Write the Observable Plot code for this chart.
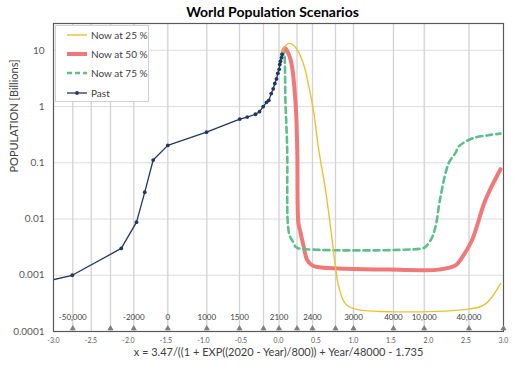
<!DOCTYPE html>
<html><head><meta charset="utf-8">
<script src="https://cdn.jsdelivr.net/npm/d3@7"></script>
<script src="https://cdn.jsdelivr.net/npm/@observablehq/plot@0.6"></script>
<style>
body{margin:0;background:#fff;font-family:Lato,"Open Sans",sans-serif;}
#wrap{position:relative;width:515px;height:367px;}
#title{height:22px;line-height:24px;text-align:center;font-weight:bold;font-size:14px;color:#000;padding-left:30px;box-sizing:border-box;width:515px;}
#legend{position:absolute;left:55px;top:25px;width:94px;height:77px;background:#fff;border:1px solid #d0d0d0;box-sizing:border-box;}
#legend svg{display:block;}
</style></head>
<body>
<div id="wrap">
<div id="title">World Population Scenarios</div>
<div id="chart"></div>
<div id="legend"></div>
</div>
<script>
// Past data
const pastX = [-3.25, -2.75, -2.097, -1.893, -1.783, -1.671, -1.476, -0.96, -0.516, -0.417, -0.307, -0.253, -0.204, -0.16, -0.129, -0.097, -0.071, -0.049, -0.027, -0.009, 0.009, 0.017, 0.027, 0.04, 0.049];
const pastY = [0.0007, 0.001, 0.003, 0.0088, 0.03, 0.112, 0.204, 0.35, 0.6, 0.65, 0.73, 0.81, 1.0, 1.19, 1.29, 1.7, 2.07, 2.57, 3.1, 3.9, 4.6, 5.6, 6.4, 7.4, 8.5];
// Now at 25 %
const s25X = [0.049, 0.08, 0.137, 0.2, 0.271, 0.35, 0.404, 0.471, 0.537, 0.627, 0.716, 0.76, 0.804, 0.893, 1.027, 2.533, 2.76, 2.96];
const s25Y = [8.5, 11.5, 13.3, 12.3, 9.1, 4.8, 2.3, 0.77, 0.17, 0.033, 0.0042, 0.0014, 0.00062, 0.00031, 0.00025, 0.00025, 0.00031, 0.00071];
// Now at 50 %
const s50X = [0.049, 0.084, 0.16, 0.227, 0.25, 0.265, 0.29, 0.316, 0.337, 0.383, 0.45, 0.516, 0.8, 1.467, 1.916, 2.133, 2.36, 2.45, 2.58, 2.76, 2.96];
const s50Y = [8.5, 11.0, 6.9, 1.18, 0.17, 0.0085, 0.006, 0.0042, 0.0032, 0.00185, 0.0015, 0.0014, 0.00132, 0.00126, 0.00123, 0.00126, 0.0015, 0.0021, 0.0042, 0.022, 0.077];
// Now at 75 %
const s75X = [0.049, 0.07, 0.093, 0.116, 0.124, 0.15, 0.182, 0.23, 0.271, 1.916, 1.96, 2.04, 2.093, 2.16, 2.271, 2.36, 2.404, 2.58, 2.8, 2.96];
const s75Y = [8.5, 9.8, 1.18, 0.17, 0.0085, 0.005, 0.0042, 0.0032, 0.003, 0.003, 0.0032, 0.0045, 0.0072, 0.025, 0.1, 0.15, 0.195, 0.27, 0.31, 0.33];

// Axis ticks
const xTicks = [-3, -2.5, -2, -1.5, -1, -0.5, 0, 0.5, 1, 1.5, 2, 2.5, 3];
const yTicks = [0.0001, 0.001, 0.01, 0.1, 1, 10];
const yTickLabels = ["0.0001", "0.001", "0.01", "0.1", "1", "10"];
// Year gridlines
const gridX = [-2.743, -2.497, -2.24, -1.93, -1.476, -0.956, -0.52, -0.2, 0.007, 0.247, 0.453, 0.76, 1.0, 1.533, 1.943, 2.54];
const markerX = [-2.743, -2.24, -1.93, -1.476, -0.956, -0.52, -0.2, 0.007, 0.247, 0.453, 0.76, 1.0, 1.533, 1.943, 2.54, 3.0];
const yearLabelX = [-2.743, -1.93, -1.476, -0.956, -0.52, 0.007, 0.453, 1.0, 1.533, 1.943, 2.54];
const yearLabels = ["-50,000", "-2000", "0", "1000", "1500", "2100", "2400", "3000", "4000", "10,000", "40,000"];
const xLabel = "x = 3.47/((1 + EXP((2020 - Year)/800)) + Year/48000 - 1.735";
const yLabel = "POPULATION [Billions]";

const zip = (xs, ys) => xs.map((x, i) => ({x, y: ys[i]}));
const past = zip(pastX, pastY), s25 = zip(s25X, s25Y), s50 = zip(s50X, s50Y), s75 = zip(s75X, s75Y);
const yTickFmt = d => yTickLabels[yTicks.findIndex(t => Math.abs(Math.log10(t) - Math.log10(d)) < 1e-6)] ?? "";

const C25 = "#ecc232", C50 = "#f07878", C75 = "#5cbf8d", CP = "#1f3864";

const chart = Plot.plot({
  width: 515, height: 345,
  marginLeft: 53, marginRight: 12, marginTop: 1, marginBottom: 36,
  style: {fontFamily: "Lato, 'Open Sans', sans-serif", background: "#fff", overflow: "visible"},
  x: {domain: [-3, 3]},
  y: {type: "log", domain: [1e-4, 30]},
  marks: [
    Plot.ruleY(yTicks, {stroke: "#dcdcdc", strokeWidth: 1}),
    Plot.ruleX(gridX, {stroke: "#d2d2d2", strokeWidth: 1.3}),
    Plot.axisY({ticks: yTicks, tickFormat: yTickFmt, tickSize: 0, tickPadding: 9, fontSize: 10, color: "#595959", label: null}),
    Plot.axisX({ticks: xTicks, tickFormat: d => d.toFixed(1), tickSize: 0, tickPadding: 7, fontSize: 7, color: "#595959", label: null}),
    Plot.text([xLabel], {text: d => d, frameAnchor: "bottom", dy: 24, fontSize: 11, fill: "#404040"}),
    Plot.text([yLabel], {text: d => d, frameAnchor: "left", rotate: -90, dx: -39, dy: -5, fontSize: 11, fill: "#404040"}),
    Plot.text(yearLabels, {x: (d, i) => yearLabelX[i], text: d => d, frameAnchor: "bottom", dy: -12, fontSize: 8, fill: "#404040"}),
    Plot.line(s50, {x: "x", y: "y", stroke: C50, strokeWidth: 4, curve: "catmull-rom", clip: true}),
    Plot.line(s75, {x: "x", y: "y", stroke: C75, strokeWidth: 2.6, strokeDasharray: "6,4", curve: "catmull-rom", clip: true}),
    Plot.line(s25, {x: "x", y: "y", stroke: C25, strokeWidth: 1.4, curve: "catmull-rom", clip: true}),
    Plot.line(past, {x: "x", y: "y", stroke: CP, strokeWidth: 1.3, clip: true}),
    Plot.dot(past.slice(1), {x: "x", y: "y", r: 1.9, fill: CP}),
    Plot.frame({stroke: "#595959", strokeWidth: 1.2}),
    Plot.dot(markerX, {x: d => d, frameAnchor: "bottom", dy: -3, symbol: "triangle", r: 2.3, fill: "#7f7f7f"})
  ]
});
document.getElementById("chart").appendChild(chart);

// Legend
const legendItems = [
  {label: "Now at 25 %", color: C25, width: 1.4, dash: null, dot: false},
  {label: "Now at 50 %", color: C50, width: 4, dash: null, dot: false},
  {label: "Now at 75 %", color: C75, width: 2.6, dash: "5,3", dot: false},
  {label: "Past", color: CP, width: 1.3, dash: null, dot: true}
];
const lg = d3.select("#legend").append("svg").attr("width", 92).attr("height", 75);
const rowY = [9, 28, 47, 67];
legendItems.forEach((it, i) => {
  const g = lg.append("g").attr("transform", `translate(0,${rowY[i]})`);
  g.append("line").attr("x1", 11).attr("x2", 31).attr("y1", 0).attr("y2", 0)
    .attr("stroke", it.color).attr("stroke-width", it.width).attr("stroke-dasharray", it.dash);
  if (it.dot) g.append("circle").attr("cx", 21).attr("cy", 0).attr("r", 1.9).attr("fill", it.color);
  g.append("text").attr("x", 35).attr("y", 0).attr("dy", "0.35em").attr("font-size", 10)
    .attr("fill", "#404040").attr("font-family", "Lato, 'Open Sans', sans-serif").text(it.label);
});
</script>
</body></html>
